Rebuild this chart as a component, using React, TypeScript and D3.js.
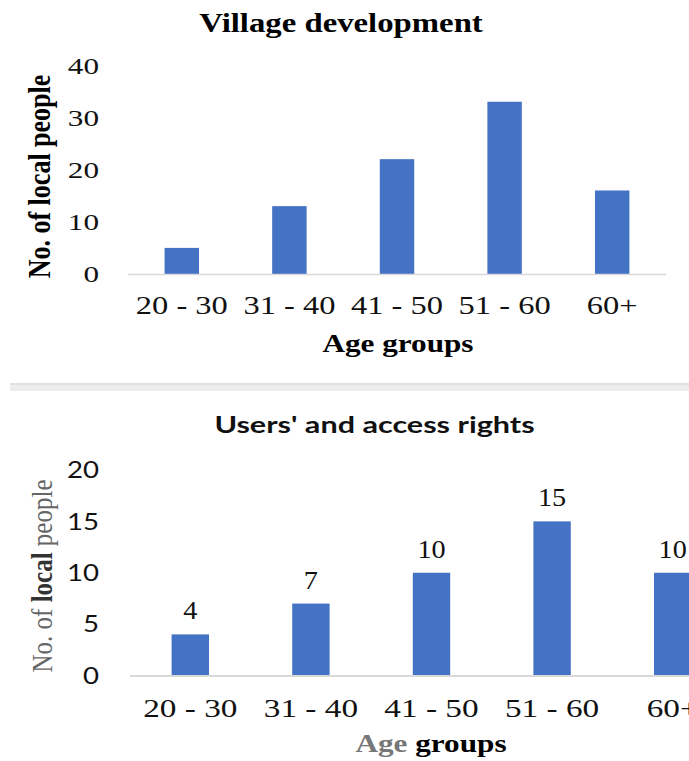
import React from "react";
import * as d3 from "d3";

const categories = ["20 - 30", "31 - 40", "41 - 50", "51 - 60", "60+"];
const villageValues = [5, 13, 22, 33, 16];
const usersValues = [4, 7, 10, 15, 10];
const villageTicks = [0, 10, 20, 30, 40];
const usersTicks = [0, 5, 10, 15, 20];

const BAR = "#4472C4";
const AXIS = "#d9d9d9";
const SERIF = "'Liberation Serif', 'Times New Roman', serif";
const SANS = "Lato, 'Open Sans', sans-serif";

function SText(props: any) {
  const { x, y, sx = 1, anchor = "middle", rotate, children, ...rest } = props;
  const tr = `translate(${x},${y}) scale(${sx},1)` + (rotate ? ` rotate(${rotate})` : "");
  return (
    <g transform={tr}>
      <text textAnchor={anchor} {...rest}>
        {children}
      </text>
    </g>
  );
}

export default function App() {
  // top chart scales
  const x1 = d3.scaleBand<string>().domain(categories).range([128, 666]).paddingInner(0.68).paddingOuter(0.34);
  const y1 = d3.scaleLinear().domain([0, 40]).range([274, 65.2]);
  // bottom chart scales
  const x2 = d3.scaleBand<string>().domain(categories).range([130, 733]).paddingInner(0.69).paddingOuter(0.345);
  const y2 = d3.scaleLinear().domain([0, 20]).range([675.5, 470]);

  return (
    <svg
      width={689}
      height={761}
      style={{ position: "absolute", left: 0, top: 0, background: "#fff" }}
    >
      <rect x={0} y={0} width={689} height={761} fill="#fff" />

      {/* ===== Top chart ===== */}
      <SText x={341} y={32} sx={1.17} fontFamily={SERIF} fontWeight="bold" fontSize={28} fill="#000">
        Village development
      </SText>
      {villageTicks.map((t) => (
        <SText key={t} x={99} y={y1(t)} dy="0.35em" sx={1.3} anchor="end" fontFamily={SERIF} fontSize={24} fill="#111">
          {t}
        </SText>
      ))}
      <SText x={50} y={176.5} sx={1.25} rotate={-90} fontFamily={SERIF} fontWeight="bold" fontSize={26} fill="#000">
        No. of local people
      </SText>
      {categories.map((c, i) => (
        <rect
          key={c}
          x={x1(c)!}
          y={y1(villageValues[i])}
          width={x1.bandwidth()}
          height={y1(0) - y1(villageValues[i])}
          fill={BAR}
        />
      ))}
      <line x1={128} x2={666} y1={y1(0) + 0.5} y2={y1(0) + 0.5} stroke={AXIS} strokeWidth={1.5} />
      {categories.map((c) => (
        <SText key={c} x={x1(c)! + x1.bandwidth() / 2} y={314} sx={1.25} fontFamily={SERIF} fontSize={26} fill="#111">
          {c}
        </SText>
      ))}
      <SText x={398} y={352} sx={1.2} fontFamily={SERIF} fontWeight="bold" fontSize={26} fill="#000">
        Age groups
      </SText>

      {/* ===== Divider ===== */}
      <rect x={10} y={383} width={679} height={8} fill="#ececec" />
      <line x1={10} x2={689} y1={384} y2={384} stroke="#dedede" strokeWidth={1.5} />

      {/* ===== Bottom chart ===== */}
      <SText x={374.5} y={433} sx={1.33} fontFamily={SANS} fontWeight="bold" fontSize={23} fill="#111">
        Users' and access rights
      </SText>
      {usersTicks.map((t) => (
        <SText key={t} x={99} y={y2(t)} dy="0.36em" sx={1.2} anchor="end" fontFamily={SANS} fontSize={23} fill="#111">
          {t}
        </SText>
      ))}
      <SText x={52} y={576} sx={1.15} rotate={-90} fontFamily={SERIF} fontSize={25} fill="#666">
        <tspan>No. of </tspan>
        <tspan fontWeight="bold" fill="#333">local</tspan>
        <tspan> people</tspan>
      </SText>
      {categories.map((c, i) => (
        <rect
          key={c}
          x={x2(c)!}
          y={y2(usersValues[i])}
          width={x2.bandwidth()}
          height={y2(0) - y2(usersValues[i])}
          fill={BAR}
        />
      ))}
      <line x1={130} x2={689} y1={y2(0) + 0.5} y2={y2(0) + 0.5} stroke={AXIS} strokeWidth={2} />
      {categories.map((c, i) => (
        <SText key={c} x={x2(c)! + x2.bandwidth() / 2} y={y2(usersValues[i]) - 15} sx={1.13} fontFamily={SERIF} fontSize={25} fill="#111">
          {usersValues[i]}
        </SText>
      ))}
      {categories.map((c) => (
        <SText key={c} x={x2(c)! + x2.bandwidth() / 2} y={717} sx={1.28} fontFamily={SERIF} fontSize={26} fill="#111">
          {c}
        </SText>
      ))}
      <SText x={431} y={752} sx={1.2} fontFamily={SERIF} fontWeight="bold" fontSize={26} fill="#000">
        <tspan fill="#777">Age</tspan>
        <tspan> groups</tspan>
      </SText>
    </svg>
  );
}
